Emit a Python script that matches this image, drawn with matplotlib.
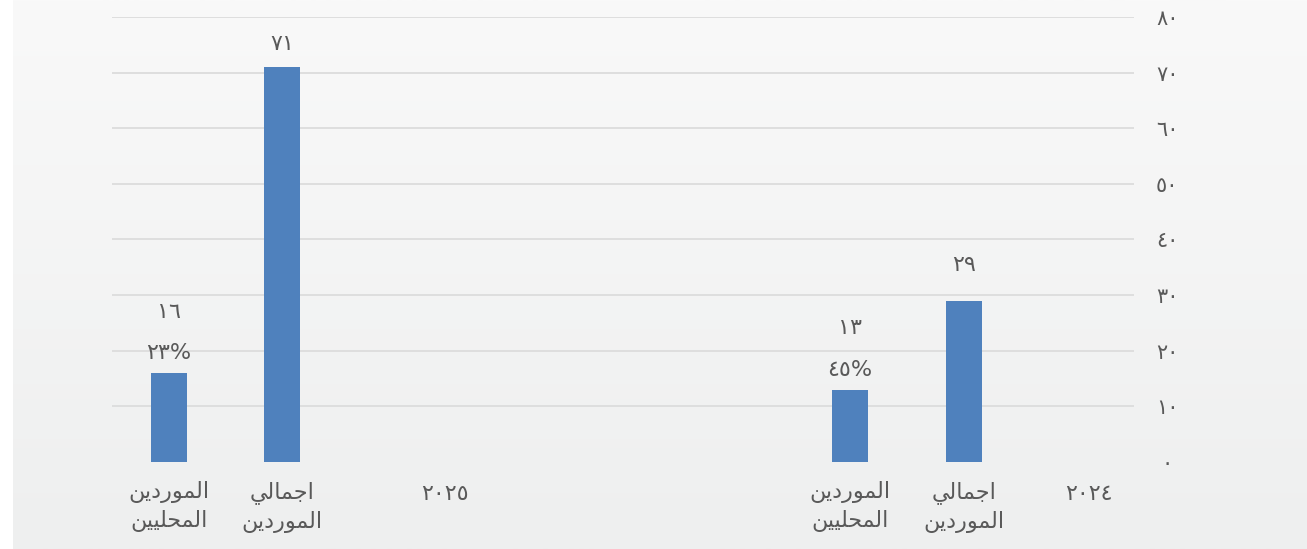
import numpy as np
import matplotlib
matplotlib.use("Agg")
import matplotlib.pyplot as plt
from matplotlib.colors import LinearSegmentedColormap

# ---- data ----
# Arabic words pre-shaped into presentation forms (visual order) so matplotlib draws them joined
w_total = "\uFEF2\uFEDF\uFE8E\uFEE4\uFE9F\uFE8D"          # اجمالي
w_suppliers = "\uFEE6\uFEF3\uFEA9\uFEAD\uFEEE\uFEE4\uFEDF\uFE8D"  # الموردين
w_local = "\uFEE6\uFEF4\uFEF4\uFEE0\uFEA4\uFEE4\uFEDF\uFE8D"      # المحليين

categories = [w_suppliers + "\n" + w_local, w_total + "\n" + w_suppliers,
              w_suppliers + "\n" + w_local, w_total + "\n" + w_suppliers]
cat_pos = [0, 1, 6, 7]
values = [16, 71, 13, 29]
value_labels = ["١٦", "٧١", "١٣", "٢٩"]
pct_labels = ["٢٣%", "", "٤٥%", ""]
years = ["٢٠٢٥", "٢٠٢٤"]
year_pos = [2.43, 8.1]
yticks = [0, 10, 20, 30, 40, 50, 60, 70, 80]
ytick_labels = ["٠", "١٠", "٢٠", "٣٠", "٤٠", "٥٠", "٦٠", "٧٠", "٨٠"]

# ---- style ----
W, H = 1307, 549
DPI = 100
TEXT = "#595959"
BAR = "#4f81bd"
GRID = "#dcdcdc"
FONT = ["DejaVu Sans"]
FS = 16
num_offsets = [61, 23, 62, 36]  # px above bar top for number labels
pct_offset = 20

fig = plt.figure(figsize=(W / DPI, H / DPI), dpi=DPI)
fig.patch.set_facecolor("white")

# background gradient panel
bg = fig.add_axes([13 / W, 0, 1 - 13 / W, 1], zorder=-10)
grad = np.linspace(0, 1, 256).reshape(-1, 1)
cmap = LinearSegmentedColormap.from_list("g", ["#f9f9f9", "#eeefef"])
bg.imshow(grad, aspect="auto", cmap=cmap, extent=[0, 1, 0, 1], origin="upper")
bg.set_axis_off()

ax = fig.add_axes([112 / W, 87 / H, 1022 / W, 445 / H])
ax.set_facecolor("none")
ax.set_xlim(-0.5, 8.5)
ax.set_ylim(0, 80)

ax.bar(cat_pos, values, width=0.317, color=BAR, zorder=3)

ax.set_yticks(yticks)
ax.set_yticklabels(ytick_labels, family=FONT, fontsize=FS - 1, color=TEXT)
ax.yaxis.tick_right()
for lab in ax.get_yticklabels():
    lab.set_horizontalalignment("center")
ax.tick_params(axis="y", length=0, pad=24)
for y in yticks[1:]:
    ax.axhline(y, color=GRID, lw=1.3, zorder=1)

ax.set_xticks(cat_pos)
ax.set_xticklabels(categories, family=FONT, fontsize=FS, color=TEXT, linespacing=1.4)
ax.tick_params(axis="x", length=0, pad=14)
for s in ax.spines.values():
    s.set_visible(False)

for yl, yp in zip(years, year_pos):
    ax.annotate(yl, (yp, 0), xytext=(0, -32), textcoords="offset pixels",
                ha="center", va="center", family=FONT, fontsize=FS, color=TEXT)

for x, v, vl, pl, off in zip(cat_pos, values, value_labels, pct_labels, num_offsets):
    ax.annotate(vl, (x, v), xytext=(0, off), textcoords="offset pixels",
                ha="center", va="center", family=FONT, fontsize=FS, color=TEXT)
    if pl:
        ax.annotate(pl, (x, v), xytext=(0, pct_offset), textcoords="offset pixels",
                    ha="center", va="center", family=FONT, fontsize=FS, color=TEXT)

fig.savefig("out.png", dpi=DPI)
